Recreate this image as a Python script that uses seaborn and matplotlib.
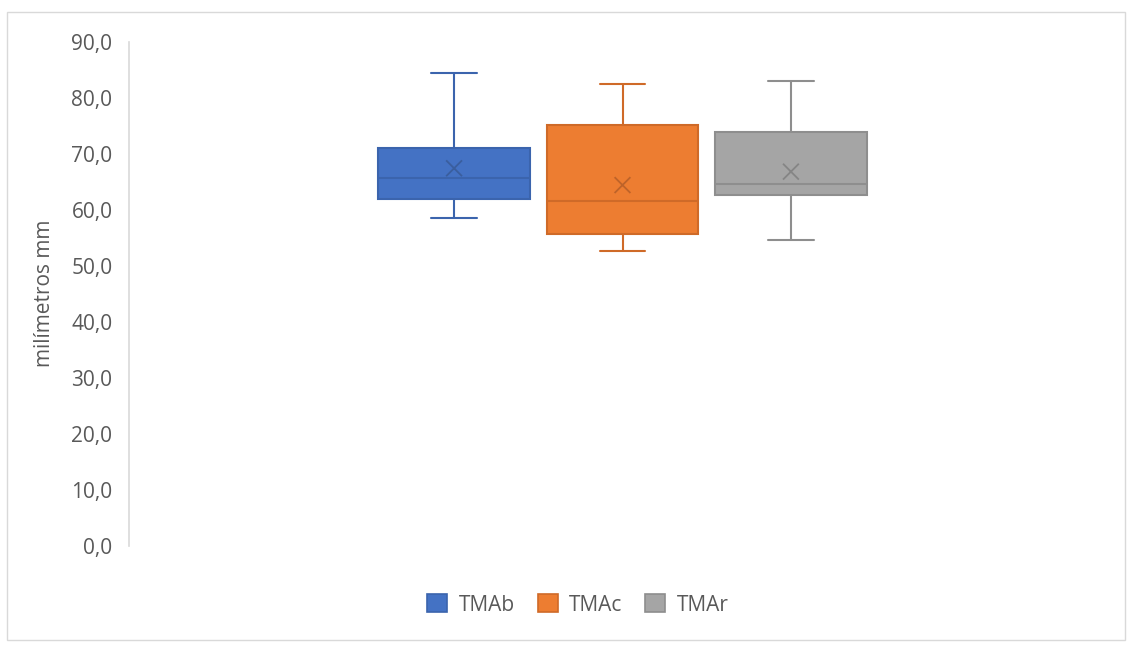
import numpy as np
import pandas as pd
import matplotlib
matplotlib.use("Agg")
import matplotlib.pyplot as plt
from matplotlib.patches import Rectangle
from matplotlib.ticker import FuncFormatter
import seaborn as sns

# Five-number summaries per group (mm)
grupos = ["TMAb", "TMAc", "TMAr"]
minimos = [58.5, 52.7, 54.6]
q1 = [61.9, 55.6, 62.7]
medianas = [65.7, 61.6, 64.6]
q3 = [71.1, 75.1, 73.9]
maximos = [84.5, 82.4, 83.0]
medias = [67.4, 64.4, 66.8]

rellenos = ["#4472C4", "#ED7D31", "#A5A5A5"]
bordes = ["#3B64AD", "#CF6A28", "#8E8E8E"]
cruces = ["#3A5E9E", "#BE6329", "#858585"]

# One row per summary value; with five points the quartiles land exactly on them
filas = []
for g, a, b, c, d, e in zip(grupos, minimos, q1, medianas, q3, maximos):
    for v in (a, b, c, d, e):
        filas.append({"grupo": g, "valor": v})
df = pd.DataFrame(filas)

sns.set_theme(style="white")
plt.rcParams["font.family"] = ["Open Sans", "DejaVu Sans"]

fig = plt.figure(figsize=(11.31, 6.46), dpi=100)
ax = fig.add_axes([0.1141, 0.1553, 0.8726, 0.7801])

sns.boxplot(data=df, x="grupo", y="valor", hue="grupo", order=grupos,
            hue_order=grupos, palette=rellenos, width=0.9, whis=np.inf,
            linewidth=1.5, legend=False, ax=ax)

# Colour each box, whisker, cap and median with its group's edge colour
for i, patch in enumerate(ax.patches):
    patch.set_facecolor(rellenos[i])
    patch.set_edgecolor(bordes[i])
    patch.set_linewidth(1.5)
for ln in ax.lines:
    xs = np.asarray(ln.get_xdata(), dtype=float)
    if xs.size == 0:
        continue
    k = int(np.clip(np.rint(xs.mean()), 0, 2))
    ln.set_color(bordes[k])
    ln.set_linewidth(1.5)
    ys = np.asarray(ln.get_ydata(), dtype=float)
    # shorten caps (horizontal lines at whisker ends)
    if ys.size == 2 and ys[0] == ys[1] and (np.isclose(ys[0], minimos[k]) or np.isclose(ys[0], maximos[k])):
        ln.set_xdata([k - 0.135, k + 0.135])

# Means as crosses
ax.scatter(range(len(grupos)), medias, marker="x", s=130,
           c=cruces, linewidths=1.3, zorder=5)

ax.set_xlim(-1.93, 3.93)
ax.set_ylim(0, 90)
ax.set_yticks(np.arange(0, 91, 10))
ax.yaxis.set_major_formatter(FuncFormatter(lambda v, p: f"{v:.1f}".replace(".", ",")))
ax.set_xticks([])
ax.set_xlabel("")
ax.set_ylabel("milímetros mm", fontsize=15, color="#595959", labelpad=12)
ax.tick_params(axis="y", labelsize=15, labelcolor="#595959", length=0, pad=12)

for s in ("top", "right", "bottom"):
    ax.spines[s].set_visible(False)
ax.spines["left"].set_color("#D9D9D9")
ax.spines["left"].set_linewidth(1.2)

# Legend
handles = [Rectangle((0, 0), 1, 1, facecolor=f, edgecolor=b, linewidth=1.2)
           for f, b in zip(rellenos, bordes)]
fig.legend(handles, grupos, loc="center", bbox_to_anchor=(0.511, 0.0635),
           ncol=3, frameon=False, fontsize=15, handlelength=0.95,
           handleheight=0.95, handletextpad=0.55, columnspacing=1.1,
           labelcolor="#595959")

# Chart area border
fig.patches.append(Rectangle((7 / 1131, 6 / 646), 1118 / 1131, 628 / 646,
                             transform=fig.transFigure, fill=False,
                             edgecolor="#D9D9D9", linewidth=1.0))

fig.savefig("out.png", dpi=100, facecolor="white")
